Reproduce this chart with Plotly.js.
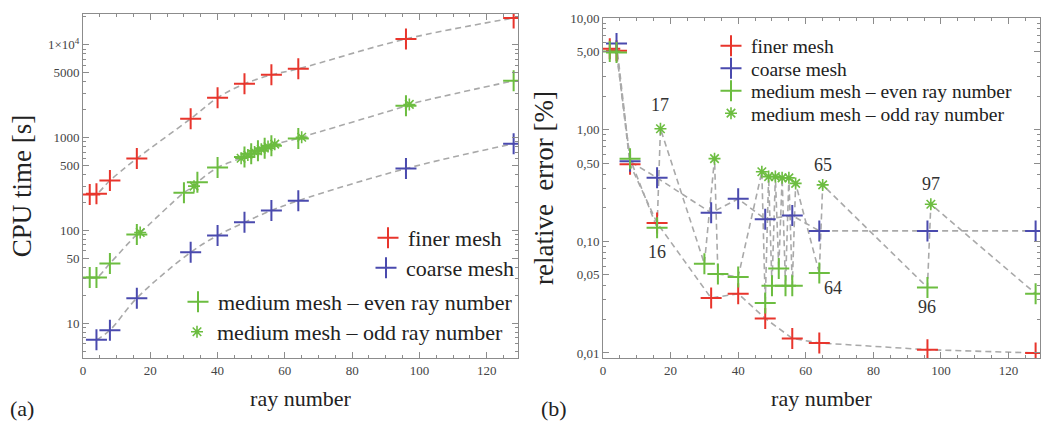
<!DOCTYPE html>
<html>
<head>
<meta charset="utf-8">
<script src="https://cdn.plot.ly/plotly-3.0.1.min.js"></script>
<style>html,body{margin:0;padding:0;background:#fff;}#chart{width:1045px;height:426px;}</style>
</head>
<body>
<div id="chart"></div>
<script>
// ---- Data ----
// (a) CPU time [s]
const rayFiner = [2, 4, 8, 16, 32, 40, 48, 56, 64, 96, 128];
const cpuFiner = [244, 248, 345, 595, 1600, 2690, 3800, 4750, 5520, 11600, 19500];
const rayCoarse = [4, 8, 16, 32, 40, 48, 56, 64, 96, 128];
const cpuCoarse = [6.6, 8.4, 18.6, 58, 88, 122, 164, 209, 464, 861];
const rayEven = [2, 4, 8, 16, 30, 34, 40, 48, 50, 52, 54, 56, 64, 96, 128];
const cpuEven = [31, 31, 44, 90, 255, 330, 475, 620, 670, 720, 770, 820, 980, 2200, 4100];
const rayOdd = [17, 33, 47, 49, 51, 53, 55, 57, 65, 97];
const cpuOdd = [95, 300, 600, 650, 700, 750, 800, 850, 1010, 2280];
// (b) relative error [%]
const errFiner = [5.3, 5.1, 0.49, 0.146, 0.031, 0.034, 0.0204, 0.0135, 0.0123, 0.0107, 0.0100];
const errCoarse = [5.9, 0.52, 0.37, 0.18, 0.24, 0.158, 0.17, 0.124, 0.124, 0.124];
const errEven = [5.0, 4.9, 0.55, 0.132, 0.063, 0.051, 0.048, 0.028, 0.040, 0.057, 0.040, 0.040, 0.052, 0.0386, 0.034];
const errOdd = [1.02, 0.55, 0.42, 0.38, 0.38, 0.37, 0.37, 0.33, 0.32, 0.215];
// labelled ray numbers in (b)
const labelRays = [16, 17, 64, 65, 96, 97];
// tick labels
const xTicks = [0, 20, 40, 60, 80, 100, 120];
const cpuTickVals = [10, 50, 100, 500, 1000, 5000, 10000];
const cpuTickText = ['10', '50', '100', '500', '1000', '5000', '1×10<sup>4</sup>'];
const errTickVals = [0.01, 0.05, 0.1, 0.5, 1, 5, 10];
const errTickText = ['0,01', '0,05', '0,10', '0,50', '1,00', '5,00', '10,00'];
const names = ['finer mesh', 'coarse mesh', 'medium mesh – even ray number', 'medium mesh – odd ray number'];

// ---- Styles ----
const RED = '#e8352c', BLUE = '#4a4aae', GREEN = '#6cbd40', GREY = '#a9a9a9';
const FONT = 'Liberation Serif';

function merge(xa, ya, xb, yb) {
  const pts = xa.map((x, i) => [x, ya[i]]).concat(xb.map((x, i) => [x, yb[i]]));
  pts.sort((p, q) => p[0] - q[0]);
  return {x: pts.map(p => p[0]), y: pts.map(p => p[1])};
}
function lineTrace(x, y, xa, ya, spline) {
  return {x: x, y: y, xaxis: xa, yaxis: ya, mode: 'lines', showlegend: false, hoverinfo: 'skip',
    line: {color: GREY, width: 1.6, dash: '6px,4px', shape: spline ? 'spline' : 'linear'}};
}
function crossTrace(x, y, xa, ya, color, name, legend) {
  return {x: x, y: y, xaxis: xa, yaxis: ya, mode: 'markers', name: name, legend: legend,
    marker: {symbol: 'cross-thin', size: 15, color: color, line: {color: color, width: 2}}};
}
function starTrace(x, y, xa, ya, name, legend) {
  return {x: x, y: y, xaxis: xa, yaxis: ya, mode: 'markers', name: name, legend: legend,
    marker: {symbol: 'asterisk', size: 10, color: GREEN, line: {color: GREEN, width: 1.6}}};
}

const medA = merge(rayEven, cpuEven, rayOdd, cpuOdd);
const medB = merge(rayEven, errEven, rayOdd, errOdd);

const traces = [
  lineTrace(rayFiner, cpuFiner, 'x', 'y', true),
  lineTrace(rayCoarse, cpuCoarse, 'x', 'y', true),
  lineTrace(medA.x, medA.y, 'x', 'y', true),
  lineTrace(rayFiner, errFiner, 'x2', 'y2', false),
  lineTrace(rayCoarse, errCoarse, 'x2', 'y2', false),
  lineTrace(medB.x, medB.y, 'x2', 'y2', false),
  crossTrace(rayFiner, cpuFiner, 'x', 'y', RED, names[0], 'legend'),
  crossTrace(rayCoarse, cpuCoarse, 'x', 'y', BLUE, names[1], 'legend2'),
  crossTrace(rayEven, cpuEven, 'x', 'y', GREEN, names[2], 'legend3'),
  starTrace(rayOdd, cpuOdd, 'x', 'y', names[3], 'legend4'),
  crossTrace(rayFiner, errFiner, 'x2', 'y2', RED, names[0], 'legend5'),
  crossTrace(rayCoarse, errCoarse, 'x2', 'y2', BLUE, names[1], 'legend6'),
  crossTrace(rayEven, errEven, 'x2', 'y2', GREEN, names[2], 'legend7'),
  starTrace(rayOdd, errOdd, 'x2', 'y2', names[3], 'legend8')
];

const W = 1045, H = 426;
function leg(px, py, size) {
  return {x: px / W, y: 1 - py / H, xanchor: 'left', yanchor: 'middle', bgcolor: 'rgba(0,0,0,0)',
    borderwidth: 0, itemwidth: 30, font: {family: FONT, size: size, color: '#222'}, itemclick: false};
}

const axLine = '#8c8c8c';
function xAxis(domain, anchor) {
  return {domain: domain, anchor: anchor, range: [0, 129.3], tickmode: 'array', tickvals: xTicks,
    ticks: 'inside', ticklen: 6, tickcolor: axLine, showline: true, linecolor: axLine, linewidth: 1,
    mirror: 'ticks', showgrid: false, zeroline: false,
    minor: {dtick: 5, tick0: 0, ticks: 'inside', ticklen: 3, tickcolor: axLine, showgrid: false},
    tickfont: {family: FONT, size: 13, color: '#444'},
    title: {text: 'ray number', font: {family: FONT, size: 22, color: '#222'}, standoff: 14}};
}
function yAxis(domain, anchor, range, vals, text, title) {
  return {domain: domain, anchor: anchor, type: 'log', range: range, tickmode: 'array', tickvals: vals, ticktext: text,
    ticks: 'inside', ticklen: 6, tickcolor: axLine, showline: true, linecolor: axLine, linewidth: 1,
    mirror: 'ticks', showgrid: false, zeroline: false,
    minor: {dtick: 'D1', ticks: 'inside', ticklen: 3, tickcolor: axLine, showgrid: false},
    tickfont: {family: FONT, size: 13, color: '#444'},
    title: {text: title, font: {family: FONT, size: 27, color: '#222'}, standoff: 8}};
}

// number annotations in (b), anchored to the data points
const shifts = {16: [0, -24], 17: [0, 24], 64: [14, -15], 65: [0, 20], 96: [0, -20], 97: [0, 20]};
const annotations = [];
labelRays.forEach(r => {
  const odd = r % 2 === 1;
  const xs = odd ? rayOdd : rayEven, ys = odd ? errOdd : errEven;
  const i = xs.indexOf(r);
  annotations.push({x: r, y: Math.log10(ys[i]), xref: 'x2', yref: 'y2', text: String(r), showarrow: false,
    xanchor: 'center', xshift: shifts[r][0], yshift: shifts[r][1], font: {family: FONT, size: 18, color: '#333'}});
});
annotations.push({x: 8 / W, y: 1 - 408 / H, xref: 'paper', yref: 'paper', xanchor: 'left', yanchor: 'middle',
  text: '(a)', showarrow: false, font: {family: FONT, size: 22, color: '#222'}});
annotations.push({x: 539 / W, y: 1 - 408 / H, xref: 'paper', yref: 'paper', xanchor: 'left', yanchor: 'middle',
  text: '(b)', showarrow: false, font: {family: FONT, size: 22, color: '#222'}});

const layout = {
  width: W, height: H, margin: {l: 0, r: 0, t: 0, b: 0}, paper_bgcolor: '#fff', plot_bgcolor: '#fff',
  font: {family: FONT},
  xaxis: xAxis([83 / W, 518 / W], 'y'),
  yaxis: yAxis([1 - 358 / H, 1 - 14 / H], 'x', [0.624, 4.333], cpuTickVals, cpuTickText, 'CPU time [s]'),
  xaxis2: xAxis([603 / W, 1040 / W], 'y2'),
  yaxis2: yAxis([1 - 358 / H, 1 - 18 / H], 'x2', [-2.045, 1.0], errTickVals, errTickText, 'relative  error [%]'),
  legend: leg(368, 238, 22),
  legend2: leg(366, 268, 22),
  legend3: leg(178, 302, 22),
  legend4: leg(177, 332, 22),
  legend5: leg(711, 46, 19.5),
  legend6: leg(711, 68.5, 19.5),
  legend7: leg(711, 91, 19.5),
  legend8: leg(711, 113.5, 19.5),
  annotations: annotations,
  showlegend: true
};

Plotly.newPlot('chart', traces, layout, {displayModeBar: false, staticPlot: true});
</script>
</body>
</html>
